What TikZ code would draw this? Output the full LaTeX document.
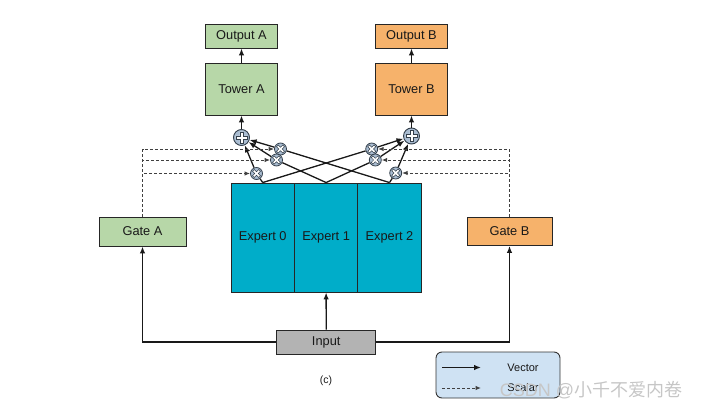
\documentclass[tikz,border=0pt]{standalone}
\usepackage{fontspec}
\setmainfont{Liberation Sans}
\newfontfamily\cjkfont{Noto Sans CJK SC}
\usetikzlibrary{arrows.meta}
\definecolor{gfill}{HTML}{B7D7A8}
\definecolor{ofill}{HTML}{F6B26B}
\definecolor{efill}{HTML}{00ADC9}
\definecolor{ifill}{HTML}{B3B3B3}
\definecolor{lfill}{HTML}{CFE2F3}
\definecolor{cfill}{HTML}{A9BCD1}
\definecolor{cline}{HTML}{34404C}
\begin{document}
\begin{tikzpicture}[x=1pt,y=-1pt,
  box/.style={draw=black!85, line width=0.9pt, inner sep=0pt, text=black!90,
    font=\fontsize{12.8}{15}\selectfont},
  vec/.style={line width=1.3pt, draw=black!90, -{Latex[length=7pt,width=5.5pt]}},
  plain/.style={line width=1.3pt, draw=black!90},
  sca/.style={line width=1pt, draw=black!75, dash pattern=on 3pt off 2pt,
    -{Latex[length=5.5pt,width=4.5pt]}},
  plusnode/.style={circle, draw=cline, fill=cfill, line width=0.9pt, minimum size=16pt, inner sep=0pt},
  multnode/.style={circle, draw=cline, fill=cfill, line width=0.8pt, minimum size=12pt, inner sep=0pt},
  symb/.style={draw=cline, fill=white, line width=0.6pt}]
\useasboundingbox (0,0) rectangle (703,412);

% towers and outputs
\node[box, fill=gfill, minimum width=72pt, minimum height=24pt] (oA) at (241.5,36) {Output A};
\node[box, fill=gfill, minimum width=72pt, minimum height=52pt] (tA) at (241.5,89) {Tower A};
\node[box, fill=ofill, minimum width=72pt, minimum height=24pt] (oB) at (411.5,36) {Output B};
\node[box, fill=ofill, minimum width=72pt, minimum height=52pt] (tB) at (411.5,89) {Tower B};

% experts
\node[box, fill=efill, minimum width=63.4pt, minimum height=109pt] (e0) at (262.7,237.5) {Expert 0};
\node[box, fill=efill, minimum width=63.4pt, minimum height=109pt] (e1) at (326.1,237.5) {Expert 1};
\node[box, fill=efill, minimum width=63.4pt, minimum height=109pt] (e2) at (389.5,237.5) {Expert 2};

% gates and input
\node[box, fill=gfill, minimum width=87pt, minimum height=29pt] (gA) at (142.5,231.5) {Gate A};
\node[box, fill=ofill, minimum width=85pt, minimum height=28.5pt] (gB) at (509.5,231.2) {Gate B};
\node[box, fill=ifill, minimum width=99pt, minimum height=24pt] (in) at (326.2,342) {Input};

% combination circles
\node[plusnode] (pA) at (241.5,137.5) {};
\node[plusnode] (pB) at (411.5,136) {};
\node[multnode] (m1) at (280.5,149) {};
\node[multnode] (m2) at (276.5,160) {};
\node[multnode] (m3) at (256.5,173.5) {};
\node[multnode] (m4) at (371.7,149) {};
\node[multnode] (m5) at (375.3,160) {};
\node[multnode] (m6) at (395.7,173) {};

\foreach \n in {pA,pB}
  \draw[symb, shift={(\n.center)}] (-1.7,-5.6) -- (1.7,-5.6) -- (1.7,-1.7) -- (5.6,-1.7) -- (5.6,1.7)
    -- (1.7,1.7) -- (1.7,5.6) -- (-1.7,5.6) -- (-1.7,1.7) -- (-5.6,1.7) -- (-5.6,-1.7) -- (-1.7,-1.7) -- cycle;
\foreach \n in {m1,m2,m3,m4,m5,m6}
  \draw[symb, line width=0.5pt, shift={(\n.center)}, rotate=45] (-1.2,-4.4) -- (1.2,-4.4) -- (1.2,-1.2) -- (4.4,-1.2) -- (4.4,1.2)
    -- (1.2,1.2) -- (1.2,4.4) -- (-1.2,4.4) -- (-1.2,1.2) -- (-4.4,1.2) -- (-4.4,-1.2) -- (-1.2,-1.2) -- cycle;

% input connections
\draw[vec] (in.north) -- (e1.south);
\draw[vec] (in.west) -| (gA.south);
\draw[vec] (in.east) -| (gB.south);

% towers
\draw[vec] (tA.north) -- (oA.south);
\draw[vec] (tB.north) -- (oB.south);
\draw[vec] (pA.north) -- (tA.south);
\draw[vec] (pB.north) -- (tB.south);

% expert outputs
\draw[plain] (e0.north) -- (m3);
\draw[plain] (e0.north) -- (m4);
\draw[plain] (e1.north) -- (m2);
\draw[plain] (e1.north) -- (m5);
\draw[plain] (e2.north) -- (m1);
\draw[plain] (e2.north) -- (m6);

% weighted to sum
\foreach \m in {m1,m2,m3} \draw[vec] (\m) -- (pA);
\foreach \m in {m4,m5,m6} \draw[vec] (\m) -- (pB);

% gate scalars
\foreach \m in {m1,m2,m3} \draw[sca] (gA.north) |- (\m);
\foreach \m in {m4,m5,m6} \draw[sca] (gB.north) |- (\m);

% caption
\node[font=\fontsize{10.5}{12}\selectfont, text=black!90] (cap) at (326,381) {(c)};

% legend
\node[draw=black!80, fill=lfill, line width=0.9pt, rounded corners=6pt, minimum width=124pt, minimum height=46pt] (leg) at (498,375) {};
\coordinate (v1) at (442,367.5);
\coordinate (v2) at (481,367.5);
\coordinate (s1) at (442,388);
\coordinate (s2) at (481,388);
\draw[vec] (v1) -- (v2);
\draw[sca] (s1) -- (s2);
\node[font=\fontsize{11}{12}\selectfont, text=black!90] (vt) at (523,367.5) {Vector};
\node[font=\fontsize{11}{12}\selectfont, text=black!90] (st) at (523,388) {Scalar};

% watermark
\node[font=\fontsize{18}{20}\selectfont, text=gray!45, inner sep=0pt] (wm) at (591,390.5) {CSDN @{\cjkfont 小千不爱内卷}};
\end{tikzpicture}
\end{document}
